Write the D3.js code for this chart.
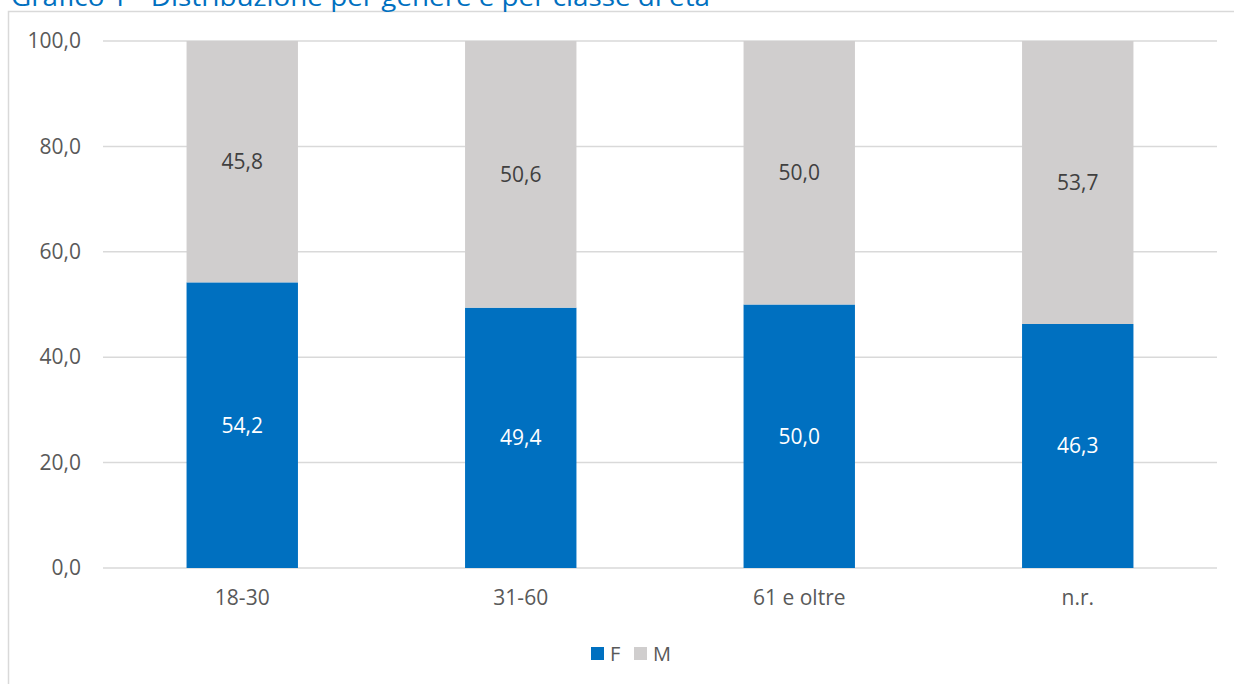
<!DOCTYPE html>
<html>
<head>
<meta charset="utf-8">
<script src="https://cdn.jsdelivr.net/npm/d3@7/dist/d3.min.js"></script>
<style>
  html, body { margin: 0; padding: 0; background: #ffffff; overflow: hidden; }
  svg { display: block; font-family: "Open Sans", sans-serif; }
</style>
</head>
<body>
<svg id="chart" width="1234" height="684"></svg>
<script>
// Age classes and share (%) by gender
const categories = ["18-30", "31-60", "61 e oltre", "n.r."];
const femmine = [54.2, 49.4, 50.0, 46.3];
const maschi = [45.8, 50.6, 50.0, 53.7];
const yTicks = [0, 20, 40, 60, 80, 100];
const seriesNames = ["F", "M"];

const colors = { F: "#0070C0", M: "#D0CECE" };
const textColor = "#595959";
const gridColor = "#D9D9D9";
const labelSize = 21;

const svg = d3.select("#chart");
const W = 1234, H = 684;
const plot = { left: 103, right: 1217, top: 41, bottom: 568 };

// Outer frame of the chart area
svg.append("rect")
  .attr("x", 8.5).attr("y", 11.5)
  .attr("width", W + 10).attr("height", H + 10)
  .attr("fill", "#fff").attr("stroke", gridColor).attr("stroke-width", 1.5);

// Title, partly above the visible area
svg.append("text")
  .attr("x", 11).attr("y", 6)
  .attr("fill", "#0070C0")
  .attr("font-size", 25)
  .attr("textLength", 699)
  .attr("lengthAdjust", "spacingAndGlyphs")
  .text("Grafico 1 - Distribuzione per genere e per classe di età");

const x = d3.scaleBand().domain(categories).range([plot.left, plot.right]).padding(0);
const y = d3.scaleLinear().domain([0, 100]).range([plot.bottom, plot.top]);
const barW = x.bandwidth() * 0.4;

// Gridlines
svg.append("g").selectAll("line").data(yTicks).join("line")
  .attr("x1", plot.left).attr("x2", plot.right)
  .attr("y1", d => y(d)).attr("y2", d => y(d))
  .attr("stroke", gridColor).attr("stroke-width", 1.5);

// Y axis labels
const yAxis = d3.axisLeft(y).tickValues(yTicks).tickSize(0).tickPadding(0)
  .tickFormat(d => d3.format(".1f")(d).replace(".", ","));
const gy = svg.append("g").attr("transform", `translate(${plot.left - 22},0)`).call(yAxis);
gy.select(".domain").remove();
gy.selectAll("text").attr("fill", textColor).attr("font-size", labelSize)
  .attr("font-family", "Open Sans, sans-serif");

// Stacked data
const rows = categories.map((c, i) => ({ cat: c, F: femmine[i], M: maschi[i] }));
const stacked = d3.stack().keys(seriesNames)(rows);

const layers = svg.append("g").selectAll("g").data(stacked).join("g")
  .attr("fill", d => colors[d.key]);

layers.selectAll("rect").data(d => d).join("rect")
  .attr("x", d => x(d.data.cat) + (x.bandwidth() - barW) / 2)
  .attr("width", barW)
  .attr("y", d => y(Math.min(d[1], 100)))
  .attr("height", d => y(d[0]) - y(Math.min(d[1], 100)));

// Value labels
layers.selectAll("text").data(d => d.map(v => ({ v, key: d.key }))).join("text")
  .attr("x", d => x(d.v.data.cat) + x.bandwidth() / 2)
  .attr("y", d => (y(d.v[0]) + y(Math.min(d.v[1], 100))) / 2)
  .attr("dy", "0.35em")
  .attr("text-anchor", "middle")
  .attr("font-size", labelSize)
  .attr("fill", d => d.key === "F" ? "#ffffff" : "#404040")
  .text(d => d3.format(".1f")(d.v.data[d.key]).replace(".", ","));

// X axis labels
const xAxis = d3.axisBottom(x).tickSize(0).tickPadding(0);
const gx = svg.append("g").attr("transform", `translate(0,${plot.bottom + 22})`).call(xAxis);
gx.select(".domain").remove();
gx.selectAll("text").attr("fill", textColor).attr("font-size", labelSize)
  .attr("font-family", "Open Sans, sans-serif");

// Legend
const legend = svg.append("g");
const legendItems = [{ key: "F", x: 591 }, { key: "M", x: 634 }];
legendItems.forEach(it => {
  legend.append("rect").attr("x", it.x).attr("y", 647).attr("width", 13).attr("height", 13)
    .attr("fill", colors[it.key]);
  legend.append("text").attr("x", it.x + 19).attr("y", 654).attr("dy", "0.35em")
    .attr("font-size", 20).attr("fill", textColor).text(it.key);
});
</script>
</body>
</html>
